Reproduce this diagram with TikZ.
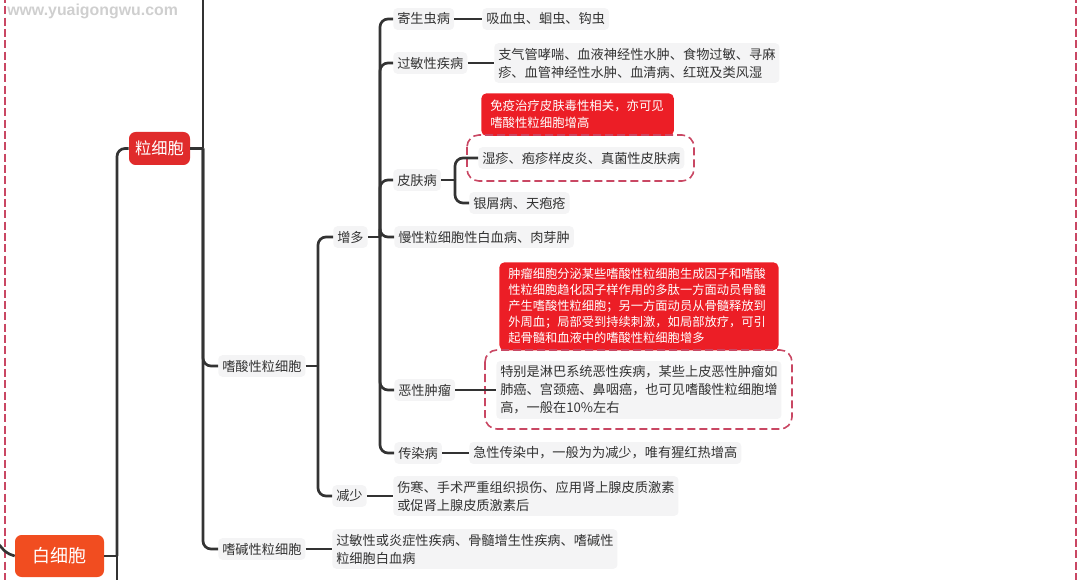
\documentclass[tikz,border=0pt]{standalone}
\usepackage{fontspec}
\setmainfont{Noto Sans CJK SC}
\newfontfamily\wmfont{Liberation Sans}
\definecolor{ln}{HTML}{333333}
\definecolor{txt}{HTML}{333333}
\definecolor{bgg}{HTML}{F4F4F5}
\definecolor{calred}{HTML}{EC1E26}
\definecolor{lxred}{HTML}{E02B2B}
\definecolor{orng}{HTML}{F14D20}
\definecolor{dashc}{HTML}{C94763}
\definecolor{wmc}{HTML}{CFCFCF}
\begin{document}
\begin{tikzpicture}[x=0.75pt,y=-0.75pt,
  lab/.style={fill=bgg, rounded corners=3pt, text=txt, font=\fontsize{9.9pt}{13.5pt}\selectfont, inner xsep=3pt, inner ysep=3.5pt, anchor=west, align=left},
  wire/.style={draw=ln, line width=2pt},
  conn/.style={draw=ln, line width=2pt, rounded corners=6pt},
  callout/.style={fill=calred, rounded corners=4pt, text=white, align=left, anchor=north west, inner xsep=6.75pt, inner ysep=4pt},
  hl/.style={draw=dashc, dash pattern=on 6pt off 3pt, line width=1.2pt, rounded corners=9pt},
  border/.style={draw=dashc, dash pattern=on 6pt off 2.5pt, line width=1.1pt},
  topic/.style={text=white, rounded corners=5pt, inner sep=0pt}
]
\useasboundingbox (0,0) rectangle (1080,580);

% outer dashed frame lines
\draw[border] (5,-5) -- (5,585);
\draw[border] (1076,-5) -- (1076,585);

% watermark
\node[anchor=west, text=wmc, inner sep=0pt] (wm) at (7,11) {\resizebox{128pt}{!}{\wmfont\bfseries www.yuaigongwu.com}};

% main topics
\node[topic, fill=orng, minimum width=66.75pt, minimum height=31.5pt, font=\fontsize{13.5pt}{16pt}\selectfont] (bxb) at (59.5,556) {白细胞};
\node[topic, fill=lxred, minimum width=45.75pt, minimum height=24.75pt, font=\fontsize{12.2pt}{14pt}\selectfont] (lxb) at (159.5,148.5) {粒细胞};

% labels
\node[lab] (sx) at (218,366) {嗜酸性粒细胞};
\node[lab] (ss) at (218,549) {嗜碱性粒细胞};
\node[lab] (zd) at (333,237) {增多};
\node[lab] (js) at (332,496) {减少};
\node[lab] (jsc) at (393,496) {伤寒、手术严重组织损伤、应用肾上腺皮质激素\\或促肾上腺皮质激素后};
\node[lab] (ssc) at (332,549) {过敏性或炎症性疾病、骨髓增生性疾病、嗜碱性\\粒细胞白血病};
\node[lab] (jsb) at (393,19) {寄生虫病};
\node[lab] (jsbc) at (482,19) {吸血虫、蛔虫、钩虫};
\node[lab] (gm) at (393,63) {过敏性疾病};
\node[lab] (gmc) at (494,63) {支气管哮喘、血液神经性水肿、食物过敏、寻麻\\疹、血管神经性水肿、血清病、红斑及类风湿};
\node[lab] (pf) at (393,180) {皮肤病};
\node[lab] (pf2) at (469,203) {银屑病、天疱疮};
\node[lab] (mx) at (394,237) {慢性粒细胞性白血病、肉芽肿};
\node[lab] (ex) at (394,390) {恶性肿瘤};
\node[lab] (cr) at (394,453) {传染病};
\node[lab] (crc) at (469,453) {急性传染中，一般为为减少，唯有猩红热增高};

% callouts
\node[callout, text width=131pt, minimum height=32pt, font=\fontsize{9.3pt}{13pt}\selectfont] (c1) at (481,93) {免疫治疗皮肤毒性相关，亦可见\\嗜酸性粒细胞增高};
\node[callout, text width=196pt, minimum height=66pt, font=\fontsize{9.2pt}{12pt}\selectfont] (c2) at (499,262) {肿瘤细胞分泌某些嗜酸性粒细胞生成因子和嗜酸\\性粒细胞趋化因子样作用的多肽一方面动员骨髓\\产生嗜酸性粒细胞；另一方面动员从骨髓释放到\\外周血；局部受到持续刺激，如局部放疗，可引\\起骨髓和血液中的嗜酸性粒细胞增多};

% highlighted (dashed) items
\node[lab] (pf1) at (478,158) {湿疹、疱疹样皮炎、真菌性皮肤病};
\node[lab] (exc) at (496,390) {特别是淋巴系统恶性疾病，某些上皮恶性肿瘤如\\肺癌、宫颈癌、鼻咽癌，也可见嗜酸性粒细胞增\\高，一般在10\%左右};
\draw[hl] (467,135) rectangle (694,181);
\draw[hl] (485,350) rectangle (792,429);

% junction coordinates
\coordinate (in0) at (-4,541);
\coordinate (b1) at (117,556);
\coordinate (b1end) at (117,590);
\coordinate (b2) at (203,148.5);
\coordinate (b2top) at (203,-10);
\coordinate (b3) at (318,366);
\coordinate (b4) at (380,237);
\coordinate (b5) at (455,180);

% connectors
\draw[wire] (in0) .. controls (6,553) .. (bxb.west);
\draw[wire] (bxb.east) -- (b1);
\draw[wire] (b1) -- (b1end);
\draw[conn] (b1) |- (lxb.west);

\draw[wire] (lxb.east) -- (b2);
\draw[wire] (b2top) -- (b2);
\draw[conn] (b2) |- (sx.west);
\draw[conn] (b2) |- (ss.west);

\draw[wire] (sx.east) -- (b3);
\draw[conn] (b3) |- (zd.west);
\draw[conn] (b3) |- (js.west);

\draw[wire] (zd.east) -- (b4);
\draw[conn] (b4) |- (jsb.west);
\draw[conn] (b4) |- (gm.west);
\draw[conn] (b4) |- (pf.west);
\draw[conn] (b4) |- (mx.west);
\draw[conn] (b4) |- (ex.west);
\draw[conn] (b4) |- (cr.west);

\draw[wire] (pf.east) -- (b5);
\draw[conn] (b5) |- (pf1.west);
\draw[conn] (b5) |- (pf2.west);

\draw[wire] (jsb.east) -- (jsbc.west);
\draw[wire] (gm.east) -- (gmc.west);
\draw[wire] (ex.east) -- (exc.west);
\draw[wire] (cr.east) -- (crc.west);
\draw[wire] (js.east) -- (jsc.west);
\draw[wire] (ss.east) -- (ssc.west);
\end{tikzpicture}
\end{document}
